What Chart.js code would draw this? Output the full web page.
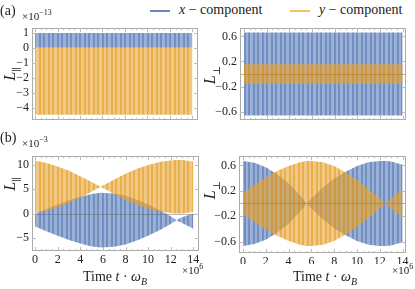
<!DOCTYPE html>
<html>
<head>
<meta charset="utf-8">
<script src="https://cdn.jsdelivr.net/npm/chart.js@4.4.0/dist/chart.umd.min.js"></script>
<style>
body { margin: 0; background: #fff; }
#fig { position: relative; width: 415px; height: 289px; overflow: hidden; font-family: "Liberation Serif", "DejaVu Serif", "Times New Roman", serif; color: #222; }
.box { position: absolute; }
.lbl { position: absolute; white-space: nowrap; line-height: 1; }
.ytitle { position: absolute; white-space: nowrap; line-height: 1; font-size: 16px; transform: translate(-50%, -50%) rotate(-90deg); }
.xtitle { position: absolute; white-space: nowrap; line-height: 1; font-size: 14px; transform: translateX(-50%); }
.mag { font-size: 11px; }
.mag sup { font-size: 8px; }
.leg { position: absolute; top: 2px; font-size: 14px; white-space: nowrap; }
.leg span.ln { display: inline-block; width: 20px; height: 1.5px; vertical-align: middle; margin-right: 9px; }
sub { font-size: 10px; }
</style>
</head>
<body>
<div id="fig">
  <div class="box" style="left:0;top:18px;width:204px;height:112px"><canvas id="aPar"></canvas></div>
  <div class="box" style="left:205px;top:18px;width:207px;height:112px"><canvas id="aPerp"></canvas></div>
  <div class="box" style="left:0;top:146px;width:205px;height:118px"><canvas id="bPar"></canvas></div>
  <div class="box" style="left:205px;top:146px;width:207px;height:118px"><canvas id="bPerp"></canvas></div>

  <div class="lbl" style="left:0;top:4px;font-size:14px">(a)</div>
  <div class="lbl mag" style="left:22px;top:9px">×10<sup>−13</sup></div>
  <div class="lbl" style="left:0;top:131px;font-size:14px">(b)</div>
  <div class="lbl mag" style="left:22px;top:136px">×10<sup>−3</sup></div>

  <div class="leg" style="left:150px"><span class="ln" style="background:#6a86bd"></span><i>x</i> − component</div>
  <div class="leg" style="left:290px"><span class="ln" style="background:#f3c463"></span><i>y</i> − component</div>

  <div class="ytitle" style="left:12px;top:74px"><i>L</i><sub>∥</sub></div>
  <div class="ytitle" style="left:212px;top:75px"><i>L</i><sub>⊥</sub></div>
  <div class="ytitle" style="left:12px;top:184px"><i>L</i><sub>∥</sub></div>
  <div class="ytitle" style="left:212px;top:190px"><i>L</i><sub>⊥</sub></div>

  <div class="lbl mag" style="left:182px;top:263px">×10<sup>6</sup></div>
  <div class="lbl mag" style="left:392px;top:263px">×10<sup>6</sup></div>
  <div class="xtitle" style="left:115px;top:270px">Time <i>t</i> · <i>ω</i><sub><i>B</i></sub></div>
  <div class="xtitle" style="left:325px;top:270px">Time <i>t</i> · <i>ω</i><sub><i>B</i></sub></div>
</div>

<script>
// (a): огибающие постоянны во времени
const timesA = [0, 14];
const aParXHi = [0.98, 0.98];
const aParXLo = [0, 0];
const aParYHi = [0, 0];
const aParYLo = [-4.46, -4.46];
const aPerpXHi = [0.66, 0.66];
const aPerpXLo = [-0.66, -0.66];
const aPerpYHi = [0.155, 0.155];
const aPerpYLo = [-0.155, -0.155];

// (b) L_par, x10^-3
const timesBPar = [0, 1, 2, 3, 4, 5, 5.8, 7, 8, 9, 10, 11, 12, 12.5, 13, 14];
const bParYHi = [10.9, 10.4, 9.7, 8.8, 7.7, 6.5, 5.5, 7.0, 8.2, 9.2, 10.0, 10.6, 10.9, 11.0, 11.0, 10.7];
const bParYLo = [0.1, 0.6, 1.3, 2.2, 3.3, 4.5, 5.5, 4.0, 2.8, 1.8, 1.0, 0.4, 0.1, 0.0, 0.0, 0.3];
const bParXHi = [-0.05, 0.95, 1.85, 2.75, 3.45, 4.05, 4.28, 4.15, 3.65, 2.85, 1.85, 0.75, -0.55, -1.35, -0.75, 0.0];
const bParXLo = [-2.65, -3.65, -4.55, -5.45, -6.15, -6.75, -6.98, -6.85, -6.35, -5.55, -4.55, -3.45, -2.15, -1.35, -1.95, -3.1];

// (b) L_perp
const timesBPerp = [0, 1, 2, 3, 4, 5, 5.6, 6, 7, 8, 9, 10, 11, 12, 12.5, 13, 14];
const bPerpXHi = [0.67, 0.64, 0.57, 0.46, 0.32, 0.13, 0.0, 0.08, 0.25, 0.39, 0.50, 0.59, 0.65, 0.67, 0.67, 0.66, 0.61];
const bPerpXLo = [-0.67, -0.64, -0.57, -0.46, -0.32, -0.13, 0.0, -0.08, -0.25, -0.39, -0.50, -0.59, -0.65, -0.67, -0.67, -0.66, -0.61];
const bPerpYHi = [0.16, 0.29, 0.41, 0.51, 0.59, 0.65, 0.67, 0.67, 0.65, 0.59, 0.49, 0.37, 0.23, 0.08, 0.0, 0.08, 0.23];
const bPerpYLo = [-0.16, -0.29, -0.41, -0.51, -0.59, -0.65, -0.67, -0.67, -0.65, -0.59, -0.49, -0.37, -0.23, -0.08, 0.0, -0.08, -0.23];

const timeTicks = [0, 2, 4, 6, 8, 10, 12, 14];

const FONT = "'Liberation Serif', 'DejaVu Serif', 'Times New Roman', serif";
const MINUS = '\u2212';

// Полосатая заливка (имитация плотных осцилляций)
function stripes(dark, light) {
    const c = document.createElement('canvas');
    c.width = 9; c.height = 4;
    const g = c.getContext('2d');
    for (let i = 0; i < 9; i++) {
        g.fillStyle = (i % 4.5) < 2.2 ? light : dark;
        g.fillRect(i, 0, 1, 4);
    }
    return g.createPattern(c, 'repeat');
}

const bluePat = stripes('rgba(94,128,188,0.88)', 'rgba(94,128,188,0.62)');
const orangePat = stripes('rgba(228,155,35,0.8)', 'rgba(232,165,50,0.6)');

// Рамка в стиле Mathematica + линия нуля
const framePlugin = {
    id: 'frame',
    afterDatasetsDraw(chart, args, opts) {
        const { ctx, chartArea: a, scales } = chart;
        ctx.save();
        if (opts.zero) {
            const y0 = Math.round(scales.y.getPixelForValue(0)) + 0.5;
            ctx.strokeStyle = opts.zero;
            ctx.lineWidth = 1;
            ctx.beginPath(); ctx.moveTo(a.left, y0); ctx.lineTo(a.right, y0); ctx.stroke();
        }
        ctx.strokeStyle = '#aaa';
        ctx.lineWidth = 1;
        ctx.strokeRect(Math.round(a.left) + 0.5, Math.round(a.top) + 0.5, Math.round(a.width) - 1, Math.round(a.height) - 1);
        ctx.strokeStyle = '#bbb';
        ctx.beginPath();
        scales.y.ticks.forEach(t => {
            const y = Math.round(scales.y.getPixelForValue(t.value)) + 0.5;
            ctx.moveTo(a.left, y); ctx.lineTo(a.left + 4, y);
            ctx.moveTo(a.right, y); ctx.lineTo(a.right - 4, y);
        });
        for (let v = 0; v <= 14.01; v += 0.5) {
            const x = Math.round(scales.x.getPixelForValue(v)) + 0.5;
            const len = Math.abs(v % 2) < 0.01 ? 4 : 2;
            ctx.moveTo(x, a.bottom); ctx.lineTo(x, a.bottom - len);
            ctx.moveTo(x, a.top); ctx.lineTo(x, a.top + len);
        }
        ctx.stroke();
        ctx.restore();
    }
};

function band(times, hi, lo, pat) {
    return [
        { data: times.map((t, i) => ({ x: t, y: hi[i] })), fill: '+1', backgroundColor: pat, borderWidth: 0, pointRadius: 0 },
        { data: times.map((t, i) => ({ x: t, y: lo[i] })), fill: false, borderWidth: 0, pointRadius: 0 }
    ];
}

function fmtInt(v) { return (v < 0 ? MINUS : '') + Math.abs(Math.round(v)); }
function fmtDec(v) { if (Math.abs(v) < 1e-9) return '0.0'; return (v < 0 ? MINUS : '') + Math.abs(v).toFixed(1); }

function makePanel(id, p) {
    const ctx = document.getElementById(id).getContext('2d');
    return new Chart(ctx, {
        type: 'line',
        data: { datasets: [...band(p.times, p.yHi, p.yLo, orangePat), ...band(p.times, p.xHi, p.xLo, bluePat)] },
        options: {
            responsive: true,
            maintainAspectRatio: false,
            animation: false,
            events: [],
            layout: { padding: { top: p.padTop, right: p.padRight, left: 0, bottom: 0 } },
            plugins: { legend: { display: false }, tooltip: { enabled: false }, frame: { zero: p.zero } },
            scales: {
                x: {
                    type: 'linear', min: p.xMin, max: p.xMax,
                    grid: { display: false, drawTicks: false }, border: { display: false },
                    afterBuildTicks: s => { s.ticks = timeTicks.map(v => ({ value: v })); },
                    ticks: { display: p.showX, padding: 2, maxRotation: 0, autoSkip: false, color: '#222', font: { family: FONT, size: 12 }, callback: v => String(v) },
                    afterFit: s => { s.height = p.axisH; }
                },
                y: {
                    min: p.yMin, max: p.yMax,
                    grid: { display: false, drawTicks: false }, border: { display: false },
                    ticks: { stepSize: p.step, includeBounds: false, padding: 3, color: '#222', font: { family: FONT, size: 12 }, callback: p.fmt },
                    afterFit: s => { s.width = p.axisW; }
                }
            }
        },
        plugins: [framePlugin]
    });
}

makePanel('aPar', {
    times: timesA, xHi: aParXHi, xLo: aParXLo, yHi: aParYHi, yLo: aParYLo,
    xMin: -0.27, xMax: 14.5, yMin: -4.8, yMax: 1.3, step: 1, fmt: fmtInt,
    showX: false, axisW: 32, axisH: 4, padTop: 5, padRight: 6, zero: null
});
makePanel('aPerp', {
    times: timesA, xHi: aPerpXHi, xLo: aPerpXLo, yHi: aPerpYHi, yLo: aPerpYLo,
    xMin: -0.35, xMax: 14.3, yMin: -0.73, yMax: 0.73, step: 0.2, fmt: fmtDec,
    showX: false, axisW: 35, axisH: 4, padTop: 5, padRight: 6, zero: 'rgba(190,120,30,0.6)'
});
makePanel('bPar', {
    times: timesBPar, xHi: bParXHi, xLo: bParXLo, yHi: bParYHi, yLo: bParYLo,
    xMin: -0.27, xMax: 14.5, yMin: -7.7, yMax: 11.8, step: 5, fmt: fmtInt,
    showX: true, axisW: 32, axisH: 13, padTop: 5, padRight: 6, zero: 'rgba(110,110,110,0.5)'
});
makePanel('bPerp', {
    times: timesBPerp, xHi: bPerpXHi, xLo: bPerpXLo, yHi: bPerpYHi, yLo: bPerpYLo,
    xMin: -0.35, xMax: 14.3, yMin: -0.78, yMax: 0.745, step: 0.2, fmt: fmtDec,
    showX: true, axisW: 34, axisH: 11, padTop: 5, padRight: 6, zero: 'rgba(190,120,30,0.6)'
});
</script>
</body>
</html>
